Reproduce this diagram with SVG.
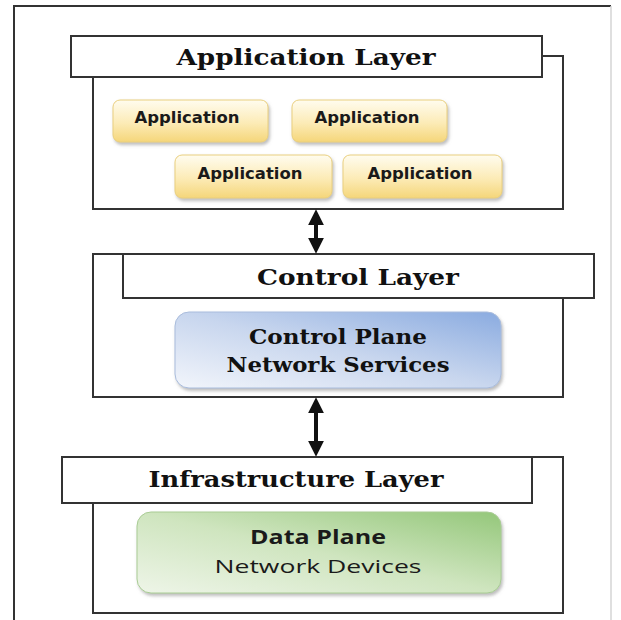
<svg xmlns="http://www.w3.org/2000/svg" width="621" height="620" viewBox="0 0 621 620">
<style>
.ln{fill:none;stroke:#333;stroke-width:2}
.tb{fill:#fff;stroke:#333;stroke-width:2}
.title{font-family:"DejaVu Serif","Liberation Serif",serif;font-weight:bold;fill:#111;text-anchor:middle}
.app{fill:url(#gy);stroke:#e9cf7e;stroke-width:1;filter:url(#sh)}
.apt{font-family:"DejaVu Sans","Liberation Sans",sans-serif;font-weight:bold;font-size:15.5px;fill:#1a1a1a;text-anchor:middle}
.arr{stroke:#111;stroke-width:4;marker-start:url(#ah);marker-end:url(#ah)}
</style>
<defs>
<linearGradient id="gy" x1="0" y1="0" x2="0" y2="1">
<stop offset="0" stop-color="#fffcef"/>
<stop offset="0.55" stop-color="#fcebb6"/>
<stop offset="1" stop-color="#f5d67a"/>
</linearGradient>
<linearGradient id="gb" x1="0" y1="1" x2="1" y2="0">
<stop offset="0" stop-color="#f2f5fb"/>
<stop offset="0.5" stop-color="#c8d6ee"/>
<stop offset="1" stop-color="#8aabe0"/>
</linearGradient>
<linearGradient id="gg" x1="0" y1="1" x2="1" y2="0">
<stop offset="0" stop-color="#eef5e8"/>
<stop offset="0.5" stop-color="#cfe5bf"/>
<stop offset="1" stop-color="#94c77a"/>
</linearGradient>
<filter id="sh" x="-10%" y="-10%" width="125%" height="140%">
<feDropShadow dx="1.5" dy="2.5" stdDeviation="1.5" flood-color="#888" flood-opacity="0.55"/>
</filter>
<marker id="ah" viewBox="0 0 10 10" refX="2" refY="5" markerWidth="4" markerHeight="4" orient="auto-start-reverse" markerUnits="strokeWidth">
<path d="M0,0 L10,5 L0,10 Z" fill="#111"/>
</marker>
</defs>

<g id="frame">
<path d="M14,620 V6 H611" class="ln"/>
<path d="M611,6 V620" fill="none" stroke="#d4d4d4" stroke-width="1.5"/>
</g>

<g id="application-layer">
<rect x="93" y="56" width="470" height="153" class="ln"/>
<rect x="71" y="36" width="471" height="41" class="tb"/>
<text x="306" y="65" class="title" font-size="23" textLength="259" lengthAdjust="spacingAndGlyphs">Application Layer</text>
</g>

<g id="app1">
<rect x="113" y="100" width="155" height="42" rx="7" class="app"/>
<text x="187" y="123" class="apt" textLength="105" lengthAdjust="spacingAndGlyphs">Application</text>
</g>
<g id="app2">
<rect x="292" y="100" width="155" height="42" rx="7" class="app"/>
<text x="367" y="123" class="apt" textLength="105" lengthAdjust="spacingAndGlyphs">Application</text>
</g>
<g id="app3">
<rect x="175" y="155" width="157" height="43" rx="7" class="app"/>
<text x="250" y="179" class="apt" textLength="105" lengthAdjust="spacingAndGlyphs">Application</text>
</g>
<g id="app4">
<rect x="343" y="155" width="159" height="43" rx="7" class="app"/>
<text x="420" y="179" class="apt" textLength="105" lengthAdjust="spacingAndGlyphs">Application</text>
</g>

<g id="control-layer">
<rect x="93" y="254" width="470" height="143" class="ln"/>
<rect x="123" y="254" width="471" height="44" class="tb"/>
<text x="358" y="285" class="title" font-size="22" textLength="202" lengthAdjust="spacingAndGlyphs">Control Layer</text>
</g>

<g id="control-plane">
<rect x="175" y="312" width="326" height="76" rx="14" fill="url(#gb)" stroke="#a9bcdc" stroke-width="1" filter="url(#sh)"/>
<text x="338" y="344" class="title" font-size="21" textLength="178" lengthAdjust="spacingAndGlyphs">Control Plane</text>
<text x="338" y="372" class="title" font-size="21" textLength="223" lengthAdjust="spacingAndGlyphs">Network Services</text>
</g>

<g id="infrastructure-layer">
<rect x="93" y="457" width="470" height="156" class="ln"/>
<rect x="62" y="457" width="470" height="46" class="tb"/>
<text x="296" y="487" class="title" font-size="23" textLength="295" lengthAdjust="spacingAndGlyphs">Infrastructure Layer</text>
</g>

<g id="data-plane">
<rect x="137" y="512" width="364" height="81" rx="14" fill="url(#gg)" stroke="#a9cc94" stroke-width="1" filter="url(#sh)"/>
<text x="318" y="544" font-family="'Open Sans','DejaVu Sans',sans-serif" font-weight="bold" font-size="19" fill="#1a1a1a" text-anchor="middle" textLength="136" lengthAdjust="spacingAndGlyphs">Data Plane</text>
<text x="318" y="573" font-family="'Open Sans','DejaVu Sans',sans-serif" font-size="19" fill="#1a1a1a" text-anchor="middle" textLength="207" lengthAdjust="spacingAndGlyphs">Network Devices</text>
</g>

<g id="connectors">
<line x1="316" y1="222" x2="316" y2="241" class="arr"/>
<line x1="316" y1="410" x2="316" y2="444" class="arr"/>
</g>
</svg>
